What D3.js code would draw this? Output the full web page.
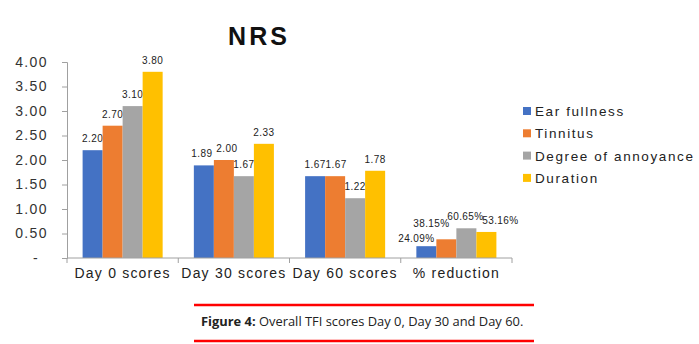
<!DOCTYPE html>
<html><head><meta charset="utf-8">
<script src="https://cdn.jsdelivr.net/npm/d3@7/dist/d3.min.js"></script>
<style>
body{margin:0;background:#fff;}
svg text{font-family:Arial,"Liberation Sans",sans-serif;}
</style></head>
<body>
<svg id="c" width="699" height="344"></svg>
<script>
const categories = ["Day 0 scores","Day 30 scores","Day 60 scores","% reduction"];
const seriesNames = ["Ear fullness","Tinnitus","Degree of annoyance","Duration"];
const earFullness = [2.20, 1.89, 1.67, 0.2409];
const tinnitus = [2.70, 2.00, 1.67, 0.3815];
const annoyance = [3.10, 1.67, 1.22, 0.6065];
const duration = [3.80, 2.33, 1.78, 0.5316];
const valueLabels = [
  ["2.20","1.89","1.67","24.09%"],
  ["2.70","2.00","1.67","38.15%"],
  ["3.10","1.67","1.22","60.65%"],
  ["3.80","2.33","1.78","53.16%"]
];
const yTicks = [0,0.5,1,1.5,2,2.5,3,3.5,4];
const yTickLabels = ["-","0.50","1.00","1.50","2.00","2.50","3.00","3.50","4.00"];
const colors = ["#4472C4","#ED7D31","#A5A5A5","#FFC000"];
// small label nudges (Excel-style overlap avoidance) [dx, dy]
const labelNudge = [
  [[0,0],[-2,0],[0,0],[-10,4]],
  [[0,0],[3,0],[1,0],[-15,-4]],
  [[0,0],[0,0],[0,0],[-1,0]],
  [[0,0],[0,0],[0,0],[14,0]]
];
const seriesValues = [earFullness, tinnitus, annoyance, duration];

const svg = d3.select("#c");
const x0 = d3.scaleBand().domain(categories).range([67,512]).padding(0);
const x1 = d3.scaleBand().domain(seriesNames).range([0,x0.bandwidth()]).paddingInner(0).paddingOuter(0.78);
const y = d3.scaleLinear().domain([0,4]).range([258,62]);

// title
svg.append("text").attr("x",259).attr("y",45).attr("text-anchor","middle")
  .attr("font-size",25).attr("letter-spacing",3).attr("font-weight","bold").attr("fill","#111").text("NRS");

// y axis
const yAxis = d3.axisLeft(y).tickValues(yTicks).tickSize(5).tickFormat((d,i)=>yTickLabels[i]);
const gy = svg.append("g").attr("transform","translate(67,0)").call(yAxis);
gy.select(".domain").attr("stroke","#a0a0a0");
gy.selectAll(".tick line").attr("stroke","#a0a0a0");
gy.selectAll(".tick text").attr("font-size",14).attr("letter-spacing",1.4).attr("fill","#333")
  .attr("x",(d)=>d===0?-28:-19)
  .attr("font-family","Arial,'Liberation Sans',sans-serif");

// bars
seriesValues.forEach((vals,si)=>{
  svg.append("g").selectAll("rect").data(vals).join("rect")
    .attr("x",(d,i)=>x0(categories[i])+x1(seriesNames[si]))
    .attr("y",d=>y(d)).attr("width",x1.bandwidth()).attr("height",d=>y(0)-y(d))
    .attr("fill",colors[si]);
  svg.append("g").selectAll("text").data(vals).join("text")
    .attr("x",(d,i)=>x0(categories[i])+x1(seriesNames[si])+x1.bandwidth()/2+labelNudge[si][i][0])
    .attr("y",(d,i)=>y(d)-8+labelNudge[si][i][1])
    .attr("text-anchor","middle").attr("font-size",10).attr("letter-spacing",0.4).attr("fill","#222")
    .text((d,i)=>valueLabels[si][i]);
});

// x axis
const gx = svg.append("g").attr("transform","translate(0,258)");
gx.append("line").attr("x1",67).attr("x2",512).attr("stroke","#a0a0a0");
const bounds = categories.map(c=>x0(c)).concat([x0(categories[3])+x0.bandwidth()]);
gx.selectAll("line.t").data(bounds).join("line").attr("class","t")
  .attr("x1",d=>d).attr("x2",d=>d).attr("y1",0).attr("y2",5).attr("stroke","#a0a0a0");
gx.selectAll("text").data(categories).join("text")
  .attr("x",d=>x0(d)+x0.bandwidth()/2).attr("y",20).attr("text-anchor","middle")
  .attr("font-size",14).attr("letter-spacing",1.2).attr("fill","#222").text(d=>d);

// legend
const lg = svg.append("g");
seriesNames.forEach((s,i)=>{
  const cy = 111 + i*22.3;
  lg.append("rect").attr("x",523).attr("y",cy-4).attr("width",8).attr("height",8).attr("fill",colors[i]);
  lg.append("text").attr("x",535).attr("y",cy+5).attr("font-size",13.5).attr("letter-spacing",1.6)
    .attr("fill","#222").text(s);
});

// caption
svg.append("line").attr("x1",194).attr("x2",534).attr("y1",305).attr("y2",305).attr("stroke","#f00").attr("stroke-width",2.5);
svg.append("line").attr("x1",194).attr("x2",534).attr("y1",341).attr("y2",341).attr("stroke","#f00").attr("stroke-width",2.5);
const cap = svg.append("text").attr("x",201).attr("y",326).attr("font-size",12.9).attr("fill","#222")
  .style("font-family","'Open Sans','Noto Sans',sans-serif");
cap.append("tspan").attr("font-weight","bold").text("Figure 4:");
cap.append("tspan").text(" Overall TFI scores Day 0, Day 30 and Day 60.");
</script>
</body></html>
